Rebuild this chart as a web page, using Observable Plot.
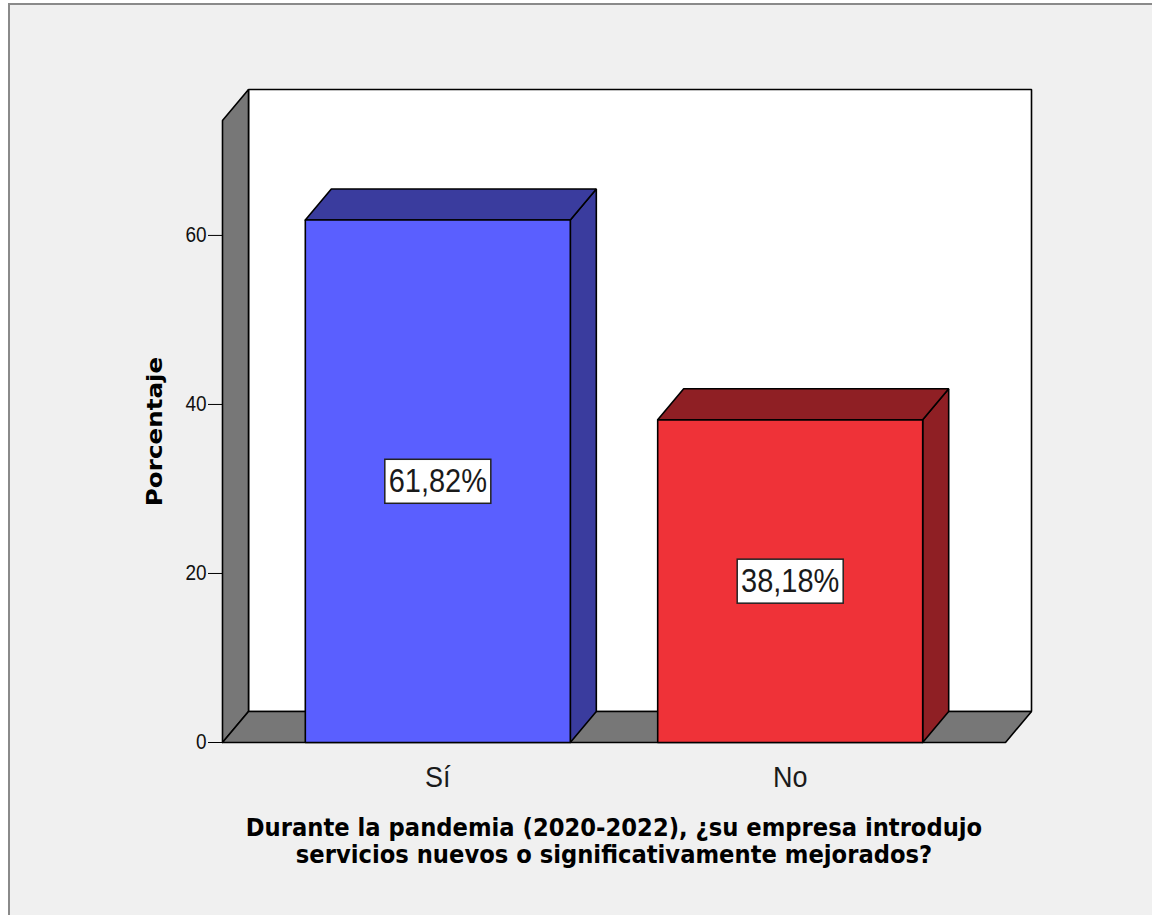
<!DOCTYPE html>
<html>
<head>
<meta charset="utf-8">
<script src="https://cdn.jsdelivr.net/npm/d3@7"></script>
<script src="https://cdn.jsdelivr.net/npm/@observablehq/plot@0.6"></script>
<style>
  html, body { margin: 0; padding: 0; background: #ffffff; }
  #wrap { position: relative; width: 1152px; height: 915px; overflow: hidden; }
  #frame {
    position: absolute; left: 8px; top: 3px; width: 1200px; height: 1000px;
    background: #f0f0f0; border-left: 2px solid #8a8a8a; border-top: 2px solid #8a8a8a;
  }
  #chart { position: absolute; left: 0; top: 0; }
</style>
</head>
<body>
<div id="wrap"><div id="frame"></div><div id="chart"></div></div>
<script>
// Survey answers and their share of respondents (%)
const categories = ["Sí", "No"];
const percentages = [61.82, 38.18];
const yTicks = [0, 20, 40, 60];
const yLabel = "Porcentaje";
const xLabel = "Durante la pandemia (2020-2022), ¿su empresa introdujo\nservicios nuevos o significativamente mejorados?";

// Face colours: front and shaded (top / side)
const frontColors = ["#5a5fff", "#ef3238"];
const shadeColors = ["#3a3c9e", "#8f1f24"];

// Pseudo-3D box geometry, in data units
const xMin = -0.611, xMax = 1.611, yMax = 73.6;
const halfBar = 0.376;
const depthX = 0.0738, depthY = 3.67;

const bars = categories.map((cat, i) => ({cat, x: i, value: percentages[i], front: frontColors[i], shade: shadeColors[i]}));

const edge = {stroke: "#000", strokeWidth: 1.6, strokeLinejoin: "miter"};
function face(points, fill) {
  const pts = points.map(([x, y]) => ({x, y}));
  pts.push(pts[0]);
  return Plot.line(pts, {x: "x", y: "y", fill, ...edge});
}

const walls = [
  face([[xMin + depthX, depthY], [xMax + depthX, depthY], [xMax + depthX, yMax + depthY], [xMin + depthX, yMax + depthY]], "#ffffff"),
  face([[xMin, 0], [xMin, yMax], [xMin + depthX, yMax + depthY], [xMin + depthX, depthY]], "#777777"),
  face([[xMin, 0], [xMax, 0], [xMax + depthX, depthY], [xMin + depthX, depthY]], "#777777")
];

const barFaces = bars.flatMap(d => {
  const xl = d.x - halfBar, xr = d.x + halfBar, v = d.value;
  return [
    face([[xr, 0], [xr + depthX, depthY], [xr + depthX, v + depthY], [xr, v]], d.shade),
    face([[xl, v], [xr, v], [xr + depthX, v + depthY], [xl + depthX, v + depthY]], d.shade),
    face([[xl, 0], [xr, 0], [xr, v], [xl, v]], d.front)
  ];
});

// White boxed value labels centred on each bar's front face
function boxed(index, scales, values, dimensions, context, next) {
  const g = next(index, scales, values, dimensions, context);
  const ns = "http://www.w3.org/2000/svg";
  for (const i of index) {
    const r = document.createElementNS(ns, "rect");
    r.setAttribute("x", values.x[i] - 53);
    r.setAttribute("y", values.y[i] - 22);
    r.setAttribute("width", 106);
    r.setAttribute("height", 44);
    r.setAttribute("fill", "#ffffff");
    r.setAttribute("stroke", "#222");
    r.setAttribute("stroke-width", 1.5);
    g.insertBefore(r, g.firstChild);
  }
  return g;
}

const chart = Plot.plot({
  width: 1152,
  height: 915,
  marginLeft: 222,
  marginRight: 147,
  marginTop: 120,
  marginBottom: 173,
  style: {background: "transparent", fontFamily: "'Liberation Sans', Arial, sans-serif", overflow: "visible"},
  x: {type: "linear", domain: [xMin, xMax], axis: null},
  y: {domain: [0, yMax], axis: null},
  marks: [
    ...walls,
    ...barFaces,
    Plot.axisY(yTicks, {anchor: "left", tickSize: 14, tickPadding: 2, fontSize: 19, label: null, stroke: "#000", fill: "#111"}),
    Plot.text(bars, {
      x: "x", y: d => d.value / 2,
      text: d => d.value.toFixed(2).replace(".", ",") + "%",
      fontSize: 29, fill: "#1a1a1a", render: boxed
    }),
    Plot.text(bars, {x: "x", y: () => 0, text: "cat", dy: 35, fontSize: 27, fill: "#1a1a1a"}),
    Plot.text([yLabel], {
      text: d => d, frameAnchor: "left", textAnchor: "middle", dx: -68, rotate: -90,
      fontSize: 22, fontWeight: "bold", fontFamily: "'DejaVu Sans', sans-serif", fill: "#000"
    }),
    Plot.text([xLabel], {
      x: () => 0.5, y: () => 0, text: d => d, dy: 98, lineHeight: 1.08,
      fontSize: 22.7, fontWeight: "bold", fontFamily: "'DejaVu Sans', sans-serif", fill: "#000"
    })
  ]
});

// Slight vertical stretch of all lettering
chart.querySelectorAll("text").forEach(t => {
  const tr = t.getAttribute("transform");
  if (!tr) return;
  t.setAttribute("transform", tr + (tr.includes("rotate") ? " scale(1.12,1)" : " scale(1,1.12)"));
});

document.getElementById("chart").appendChild(chart);
</script>
</body>
</html>
